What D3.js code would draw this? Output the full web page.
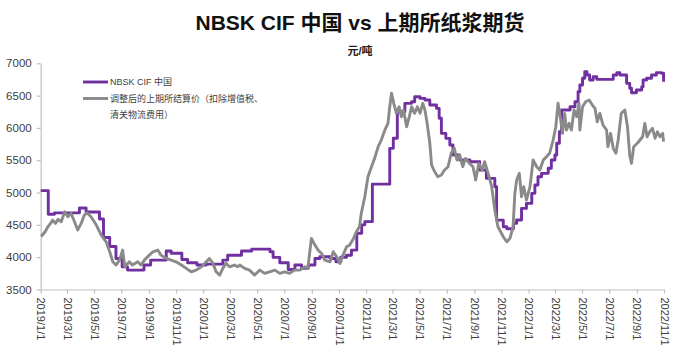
<!DOCTYPE html>
<html><head><meta charset="utf-8">
<script src="https://cdn.jsdelivr.net/npm/d3@7"></script>
<style>
body{margin:0;background:#fff}
text{font-family:"Liberation Sans",Arial,"Noto Sans CJK SC",sans-serif}
</style>
</head><body>
<svg id="chart" width="680" height="356"></svg>
<script>
const titleText = "NBSK CIF 中国 vs 上期所纸浆期货";
const unitText = "元/吨";
const legendNbsk = ["NBSK CIF 中国"];
const legendShfe = ["调整后的上期所结算价（扣除增值税、", "清关物流费用）"];
const yTicks = [3500, 4000, 4500, 5000, 5500, 6000, 6500, 7000];
const xStart = "2019-01-01";
const xEnd = "2022-11-01";

// NBSK CIF China (step series)
const nbsk = [
["2019-01-01",5030],["2019-01-18",4665],["2019-02-01",4685],["2019-03-29",4760],["2019-04-13",4700],
["2019-05-13",4590],["2019-05-22",4305],["2019-06-05",4165],["2019-06-19",3980],["2019-07-03",3850],
["2019-07-15",3800],["2019-08-21",3880],["2019-09-05",3955],["2019-10-10",4095],["2019-10-21",4060],
["2019-11-14",3965],["2019-11-27",3913],["2019-12-18",3878],["2020-01-08",3893],["2020-02-14",3955],
["2020-02-25",4030],["2020-03-27",4095],["2020-04-19",4125],["2020-05-30",4085],["2020-06-06",3997],
["2020-06-21",3913],["2020-07-10",3810],["2020-07-25",3878],["2020-08-09",3827],["2020-08-24",3878],
["2020-09-08",3980],["2020-09-19",4006],["2020-10-12",3980],["2020-10-25",3930],["2020-11-05",4000],
["2020-11-18",4030],["2020-11-29",4110],["2020-12-11",4370],["2020-12-22",4500],["2020-12-29",4550],
["2021-01-15",5130],["2021-02-23",5684],["2021-03-03",5840],["2021-03-12",6250],["2021-03-29",6380],
["2021-04-13",6406],["2021-04-20",6483],["2021-05-02",6457],["2021-05-13",6432],["2021-05-24",6354],
["2021-06-08",6303],["2021-06-14",6149],["2021-06-19",5916],["2021-06-29",5839],["2021-07-08",5735],
["2021-07-15",5580],["2021-07-30",5503],["2021-08-22",5477],["2021-09-13",5348],["2021-09-28",5220],
["2021-10-17",5090],["2021-10-21",4574],["2021-11-05",4470],["2021-11-13",4440],["2021-11-28",4523],
["2021-12-05",4575],["2021-12-16",4755],["2021-12-27",4832],["2022-01-08",4988],["2022-01-15",5116],
["2022-01-22",5245],["2022-01-30",5297],["2022-02-14",5375],["2022-02-21",5503],["2022-03-01",5580],
["2022-03-05",5762],["2022-03-11",5941],["2022-03-16",6277],["2022-04-04",6328],["2022-04-15",6406],
["2022-04-22",6560],["2022-04-26",6664],["2022-05-02",6768],["2022-05-07",6870],["2022-05-12",6819],
["2022-05-18",6741],["2022-05-26",6793],["2022-06-03",6752],["2022-07-10",6819],["2022-07-18",6855],
["2022-07-25",6819],["2022-08-09",6690],["2022-08-16",6613],["2022-08-20",6545],["2022-08-31",6587],
["2022-09-12",6638],["2022-09-15",6741],["2022-09-23",6768],["2022-10-04",6819],["2022-10-15",6855],
["2022-10-26",6845],["2022-10-31",6715]
];

// Adjusted SHFE pulp settlement price
const shfe = [
["2019-01-02",4320],["2019-01-11",4393],["2019-01-17",4470],["2019-01-23",4523],["2019-01-28",4574],
["2019-02-03",4523],["2019-02-09",4585],["2019-02-16",4548],["2019-02-24",4703],["2019-03-03",4626],
["2019-03-10",4678],["2019-03-18",4548],["2019-03-25",4420],["2019-04-02",4523],["2019-04-09",4652],
["2019-04-15",4687],["2019-04-24",4626],["2019-05-06",4497],["2019-05-17",4342],["2019-05-28",4238],
["2019-06-05",4084],["2019-06-12",3929],["2019-06-19",3878],["2019-06-27",3955],["2019-07-04",4110],
["2019-07-09",3851],["2019-07-19",3929],["2019-07-26",3878],["2019-08-07",3929],["2019-08-14",3878],
["2019-08-22",3955],["2019-09-02",4032],["2019-09-10",4084],["2019-09-21",4110],["2019-09-28",4032],
["2019-10-10",3980],["2019-10-21",3955],["2019-11-01",3929],["2019-11-13",3878],["2019-11-24",3827],
["2019-12-05",3774],["2019-12-16",3800],["2019-12-28",3851],["2020-01-08",3929],["2020-01-15",3980],
["2020-01-23",3904],["2020-01-30",3774],["2020-02-07",3723],["2020-02-14",3827],["2020-02-21",3904],
["2020-02-29",3851],["2020-03-11",3878],["2020-03-18",3851],["2020-03-23",3878],["2020-04-03",3827],
["2020-04-14",3800],["2020-04-25",3723],["2020-05-07",3800],["2020-05-18",3749],["2020-05-29",3774],
["2020-06-10",3800],["2020-06-21",3749],["2020-07-02",3774],["2020-07-13",3749],["2020-07-24",3800],
["2020-08-05",3800],["2020-08-16",3851],["2020-08-23",3827],["2020-08-31",4291],["2020-09-08",4187],
["2020-09-15",4110],["2020-09-23",4058],["2020-09-30",3955],["2020-10-12",3929],["2020-10-19",4084],
["2020-10-27",4006],["2020-11-03",3904],["2020-11-10",4032],["2020-11-18",4161],["2020-11-25",4187],
["2020-12-03",4280],["2020-12-10",4393],["2020-12-17",4470],["2020-12-21",4678],["2020-12-29",4935],
["2021-01-05",5245],["2021-01-13",5400],["2021-01-20",5529],["2021-01-28",5709],["2021-02-04",5813],
["2021-02-12",5967],["2021-02-19",6071],["2021-02-23",6328],["2021-02-27",6536],["2021-03-04",6381],
["2021-03-10",6226],["2021-03-16",6328],["2021-03-21",6173],["2021-03-26",6277],["2021-04-02",6019],
["2021-04-08",6173],["2021-04-13",6328],["2021-04-20",6226],["2021-04-26",6328],["2021-05-02",6226],
["2021-05-08",6381],["2021-05-13",6277],["2021-05-18",6071],["2021-05-24",5762],["2021-05-28",5426],
["2021-06-04",5322],["2021-06-11",5245],["2021-06-19",5271],["2021-06-26",5348],["2021-07-04",5400],
["2021-07-11",5607],["2021-07-18",5684],["2021-07-24",5503],["2021-07-30",5580],["2021-08-06",5400],
["2021-08-12",5529],["2021-08-21",5452],["2021-08-29",5400],["2021-09-04",5193],["2021-09-11",5452],
["2021-09-19",5348],["2021-09-24",5477],["2021-10-02",5297],["2021-10-10",5090],["2021-10-17",4729],
["2021-10-24",4470],["2021-10-28",4420],["2021-11-05",4316],["2021-11-13",4238],["2021-11-20",4291],
["2021-11-27",4470],["2021-12-01",4988],["2021-12-05",5193],["2021-12-11",5297],["2021-12-16",4935],
["2021-12-21",5090],["2021-12-27",4884],["2022-01-04",5090],["2022-01-11",5503],["2022-01-19",5400],
["2022-01-26",5348],["2022-02-03",5503],["2022-02-10",5555],["2022-02-17",5607],["2022-02-25",5813],
["2022-03-03",6019],["2022-03-08",6381],["2022-03-14",6122],["2022-03-18",5916],["2022-03-23",6226],
["2022-03-27",5967],["2022-04-02",6071],["2022-04-07",5967],["2022-04-13",6277],["2022-04-19",6173],
["2022-04-24",6381],["2022-04-26",5967],["2022-05-02",6328],["2022-05-09",6406],["2022-05-17",6432],
["2022-05-24",6354],["2022-05-30",6303],["2022-06-04",6096],["2022-06-10",6226],["2022-06-17",6045],
["2022-06-25",5967],["2022-06-28",5709],["2022-07-04",5916],["2022-07-10",5684],["2022-07-16",5607],
["2022-07-21",5813],["2022-07-28",6226],["2022-08-05",6277],["2022-08-11",6019],["2022-08-16",5580],
["2022-08-20",5452],["2022-08-25",5709],["2022-09-02",5762],["2022-09-08",5813],["2022-09-14",5864],
["2022-09-19",6071],["2022-09-24",5864],["2022-09-30",5941],["2022-10-06",5994],["2022-10-12",5839],
["2022-10-17",5941],["2022-10-23",5864],["2022-10-29",5916],["2022-10-31",5787]
];

const colors = {nbsk: "#7030A0", shfe: "#8a8a8a", axis: "#bfbfbf", text: "#404040"};

const parse = d3.timeParse("%Y-%m-%d");
const svg = d3.select("#chart");

const x = d3.scaleTime().domain([parse(xStart), parse(xEnd)]).range([40.7, 664]);
const y = d3.scaleLinear().domain([3500, 7000]).range([289.5, 63.3]);

// title
svg.append("text").attr("x", 360).attr("y", 30).attr("text-anchor", "middle")
  .attr("font-size", 21).attr("font-weight", "bold").attr("fill", "#111").text(titleText);
svg.append("text").attr("x", 360).attr("y", 55).attr("text-anchor", "middle")
  .attr("font-size", 11).attr("font-weight", "bold").attr("fill", "#222").text(unitText);

// axes
const yAxis = svg.append("g").attr("transform", "translate(40.7,0)")
  .call(d3.axisLeft(y).tickValues(yTicks).tickSize(4).tickSizeOuter(0).tickPadding(5).tickFormat(d3.format("d")));
const xAxis = svg.append("g").attr("transform", "translate(0,289.5)")
  .call(d3.axisBottom(x).ticks(d3.timeMonth.every(2)).tickSize(4).tickSizeOuter(0)
    .tickFormat(d3.timeFormat("%Y/%-m/%-d")));
[yAxis, xAxis].forEach(g => {
  g.select(".domain").attr("stroke", colors.axis).attr("stroke-width", 1.2);
  g.selectAll(".tick line").attr("stroke", colors.axis).attr("stroke-width", 1.2);
  g.selectAll("text").attr("fill", colors.text).attr("font-size", 11.5)
    .style("font-family", '"Liberation Sans", Arial, sans-serif');
});
xAxis.selectAll(".tick text").attr("font-size", 11)
  .attr("transform", "rotate(90)").attr("text-anchor", "start")
  .attr("x", 8).attr("y", 0).attr("dy", "0.35em");

// lines
const lineStep = d3.line().x(d => x(parse(d[0]))).y(d => y(d[1])).curve(d3.curveStepAfter);
const lineLin = d3.line().x(d => x(parse(d[0]))).y(d => y(d[1]));

svg.append("path").datum(nbsk).attr("d", lineStep).attr("fill", "none")
  .attr("stroke", colors.nbsk).attr("stroke-width", 2.9).attr("stroke-linejoin", "round");
svg.append("path").datum(shfe).attr("d", lineLin).attr("fill", "none")
  .attr("stroke", colors.shfe).attr("stroke-width", 2.9).attr("stroke-linejoin", "round");

// legend
const lg = svg.append("g");
lg.append("line").attr("x1", 83).attr("x2", 108).attr("y1", 82).attr("y2", 82)
  .attr("stroke", colors.nbsk).attr("stroke-width", 2.9);
lg.append("text").attr("x", 110).attr("y", 85.3).attr("font-size", 9).attr("fill", colors.text).text(legendNbsk[0]);
lg.append("line").attr("x1", 83).attr("x2", 108).attr("y1", 98.5).attr("y2", 98.5)
  .attr("stroke", colors.shfe).attr("stroke-width", 2.9);
legendShfe.forEach((t, i) => {
  lg.append("text").attr("x", 110).attr("y", 101.8 + i * 16.5).attr("font-size", 9)
    .attr("fill", colors.text).text(t);
});
</script>
</body></html>
